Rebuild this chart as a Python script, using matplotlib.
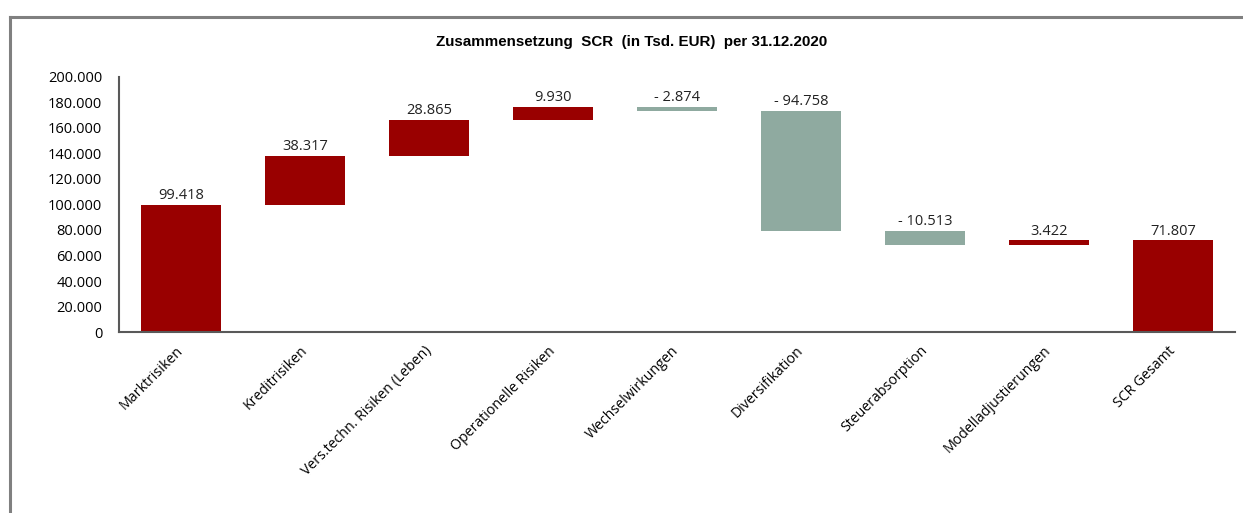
import matplotlib.pyplot as plt
from matplotlib.lines import Line2D

# Daten (Tsd. EUR)
kategorien = ["Marktrisiken", "Kreditrisiken", "Vers.techn. Risiken (Leben)",
              "Operationelle Risiken", "Wechselwirkungen", "Diversifikation",
              "Steuerabsorption", "Modelladjustierungen", "SCR Gesamt"]
werte = [99418, 38317, 28865, 9930, -2874, -94758, -10513, 3422, 71807]
ist_summe = [False] * 8 + [True]
y_ticks = [0, 20000, 40000, 60000, 80000, 100000, 120000, 140000, 160000, 180000, 200000]

rot = "#990000"
grau = "#8FAAA0"


def fmt(v):
    s = f"{abs(v):,}".replace(",", ".")
    return ("- " + s) if v < 0 else s


fig = plt.figure(figsize=(12.43, 5.13), dpi=100)
ax = fig.add_axes([0.0957, 0.3528, 0.8979, 0.4972])

# Wasserfall: Startpunkte berechnen
laufend = 0
for i, (v, summe) in enumerate(zip(werte, ist_summe)):
    if summe:
        unten, hoehe = 0, v
        oben = v
    else:
        unten = laufend if v >= 0 else laufend + v
        hoehe = abs(v)
        laufend += v
        oben = unten + hoehe
    farbe = rot if v >= 0 else grau
    ax.bar(i, hoehe, bottom=unten, width=0.645, color=farbe)
    ax.text(i, oben + 1500, fmt(v), ha="center", va="bottom",
            fontsize=10.5, family="Open Sans", color="#222222")

ax.set_xlim(-0.5, len(werte) - 0.5)
ax.set_ylim(0, 200000)
ax.set_yticks(y_ticks)
ax.set_yticklabels([fmt(t) for t in y_ticks], fontsize=10.5, family="Open Sans")
ax.set_xticks(range(len(kategorien)))
ax.set_xticklabels(kategorien, rotation=45, ha="right", va="center",
                   rotation_mode="anchor", fontsize=10.2, family="Open Sans")
ax.tick_params(axis="both", length=0)
ax.tick_params(axis="x", pad=12)
ax.tick_params(axis="y", pad=12)

for s in ["top", "right"]:
    ax.spines[s].set_visible(False)
for s in ["left", "bottom"]:
    ax.spines[s].set_color("#595959")
    ax.spines[s].set_linewidth(1.5)

fig.text(0.508, 0.918, "Zusammensetzung  SCR  (in Tsd. EUR)  per 31.12.2020",
         ha="center", va="center", fontsize=10.9, fontweight="bold",
         family="Liberation Sans")

# Rahmen (links und oben)
x0, y0 = 10.5 / 1243, 1 - 16.5 / 513
fig.add_artist(Line2D([x0, x0], [0, y0], color="#808080", lw=2.2))
fig.add_artist(Line2D([x0, 1], [y0, y0], color="#808080", lw=2.2))

fig.savefig("out.png", dpi=100)
